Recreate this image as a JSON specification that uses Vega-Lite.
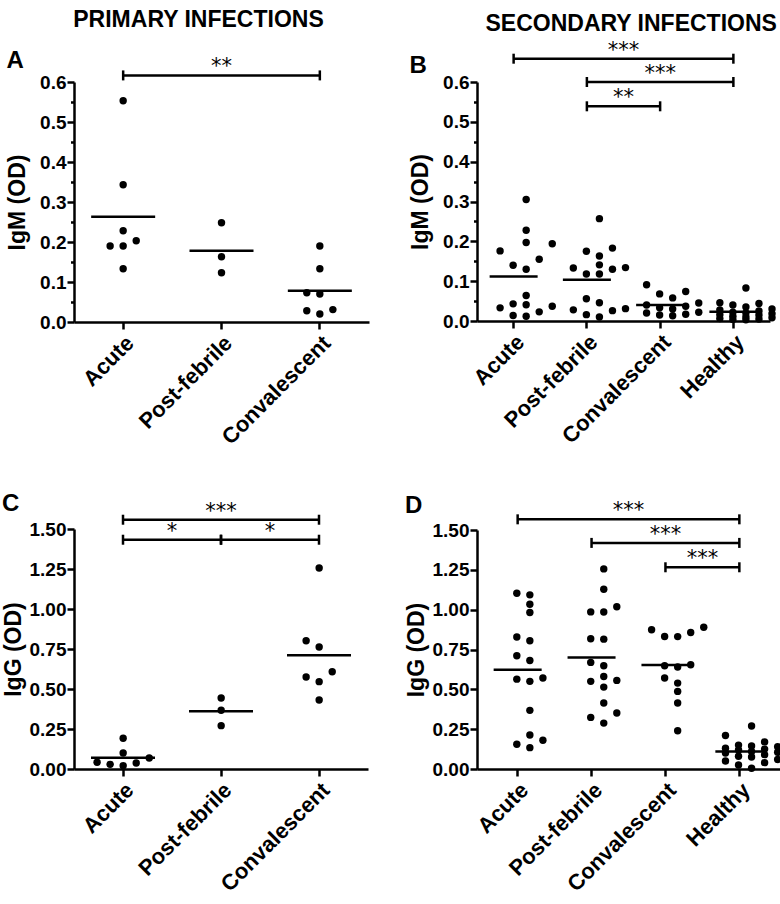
{
  "$schema": "https://vega.github.io/schema/vega-lite/v6.json",
  "background": "white",
  "padding": {"left": 2, "top": 9, "right": 0, "bottom": 0},
  "datasets": {
    "points": [
      {"p": "A", "g": "Acute", "v": 0.553}, {"p": "A", "g": "Acute", "v": 0.343}, {"p": "A", "g": "Acute", "v": 0.228}, {"p": "A", "g": "Acute", "v": 0.203}, {"p": "A", "g": "Acute", "v": 0.19}, {"p": "A", "g": "Acute", "v": 0.19}, {"p": "A", "g": "Acute", "v": 0.133},
      {"p": "A", "g": "Post-febrile", "v": 0.248}, {"p": "A", "g": "Post-febrile", "v": 0.163}, {"p": "A", "g": "Post-febrile", "v": 0.123},
      {"p": "A", "g": "Convalescent", "v": 0.19}, {"p": "A", "g": "Convalescent", "v": 0.133}, {"p": "A", "g": "Convalescent", "v": 0.073}, {"p": "A", "g": "Convalescent", "v": 0.07}, {"p": "A", "g": "Convalescent", "v": 0.031}, {"p": "A", "g": "Convalescent", "v": 0.02}, {"p": "A", "g": "Convalescent", "v": 0.028},
      {"p": "B", "g": "Acute", "v": 0.305}, {"p": "B", "g": "Acute", "v": 0.228}, {"p": "B", "g": "Acute", "v": 0.197}, {"p": "B", "g": "Acute", "v": 0.194}, {"p": "B", "g": "Acute", "v": 0.176}, {"p": "B", "g": "Acute", "v": 0.155}, {"p": "B", "g": "Acute", "v": 0.14}, {"p": "B", "g": "Acute", "v": 0.13}, {"p": "B", "g": "Acute", "v": 0.064}, {"p": "B", "g": "Acute", "v": 0.043}, {"p": "B", "g": "Acute", "v": 0.041}, {"p": "B", "g": "Acute", "v": 0.037}, {"p": "B", "g": "Acute", "v": 0.033}, {"p": "B", "g": "Acute", "v": 0.023}, {"p": "B", "g": "Acute", "v": 0.014}, {"p": "B", "g": "Acute", "v": 0.012},
      {"p": "B", "g": "Post-febrile", "v": 0.257}, {"p": "B", "g": "Post-febrile", "v": 0.183}, {"p": "B", "g": "Post-febrile", "v": 0.175}, {"p": "B", "g": "Post-febrile", "v": 0.163}, {"p": "B", "g": "Post-febrile", "v": 0.141}, {"p": "B", "g": "Post-febrile", "v": 0.134}, {"p": "B", "g": "Post-febrile", "v": 0.133}, {"p": "B", "g": "Post-febrile", "v": 0.13}, {"p": "B", "g": "Post-febrile", "v": 0.118}, {"p": "B", "g": "Post-febrile", "v": 0.118}, {"p": "B", "g": "Post-febrile", "v": 0.056}, {"p": "B", "g": "Post-febrile", "v": 0.046}, {"p": "B", "g": "Post-febrile", "v": 0.031}, {"p": "B", "g": "Post-febrile", "v": 0.028}, {"p": "B", "g": "Post-febrile", "v": 0.026}, {"p": "B", "g": "Post-febrile", "v": 0.016}, {"p": "B", "g": "Post-febrile", "v": 0.01},
      {"p": "B", "g": "Convalescent", "v": 0.091}, {"p": "B", "g": "Convalescent", "v": 0.074}, {"p": "B", "g": "Convalescent", "v": 0.068}, {"p": "B", "g": "Convalescent", "v": 0.058}, {"p": "B", "g": "Convalescent", "v": 0.045}, {"p": "B", "g": "Convalescent", "v": 0.04}, {"p": "B", "g": "Convalescent", "v": 0.037}, {"p": "B", "g": "Convalescent", "v": 0.033}, {"p": "B", "g": "Convalescent", "v": 0.03}, {"p": "B", "g": "Convalescent", "v": 0.022}, {"p": "B", "g": "Convalescent", "v": 0.02}, {"p": "B", "g": "Convalescent", "v": 0.017}, {"p": "B", "g": "Convalescent", "v": 0.015}, {"p": "B", "g": "Convalescent", "v": 0.013},
      {"p": "B", "g": "Healthy", "v": 0.083}, {"p": "B", "g": "Healthy", "v": 0.046}, {"p": "B", "g": "Healthy", "v": 0.044}, {"p": "B", "g": "Healthy", "v": 0.04}, {"p": "B", "g": "Healthy", "v": 0.035}, {"p": "B", "g": "Healthy", "v": 0.03}, {"p": "B", "g": "Healthy", "v": 0.028}, {"p": "B", "g": "Healthy", "v": 0.025}, {"p": "B", "g": "Healthy", "v": 0.022}, {"p": "B", "g": "Healthy", "v": 0.02}, {"p": "B", "g": "Healthy", "v": 0.018}, {"p": "B", "g": "Healthy", "v": 0.016}, {"p": "B", "g": "Healthy", "v": 0.015}, {"p": "B", "g": "Healthy", "v": 0.012}, {"p": "B", "g": "Healthy", "v": 0.01}, {"p": "B", "g": "Healthy", "v": 0.008}, {"p": "B", "g": "Healthy", "v": 0.006}, {"p": "B", "g": "Healthy", "v": 0.005}, {"p": "B", "g": "Healthy", "v": 0.004}, {"p": "B", "g": "Healthy", "v": 0.003},
      {"p": "C", "g": "Acute", "v": 0.192}, {"p": "C", "g": "Acute", "v": 0.1}, {"p": "C", "g": "Acute", "v": 0.069}, {"p": "C", "g": "Acute", "v": 0.042}, {"p": "C", "g": "Acute", "v": 0.0375}, {"p": "C", "g": "Acute", "v": 0.029}, {"p": "C", "g": "Acute", "v": 0.021},
      {"p": "C", "g": "Post-febrile", "v": 0.444}, {"p": "C", "g": "Post-febrile", "v": 0.367}, {"p": "C", "g": "Post-febrile", "v": 0.271},
      {"p": "C", "g": "Convalescent", "v": 1.256}, {"p": "C", "g": "Convalescent", "v": 0.802}, {"p": "C", "g": "Convalescent", "v": 0.7625}, {"p": "C", "g": "Convalescent", "v": 0.608}, {"p": "C", "g": "Convalescent", "v": 0.575}, {"p": "C", "g": "Convalescent", "v": 0.546}, {"p": "C", "g": "Convalescent", "v": 0.431},
      {"p": "D", "g": "Acute", "v": 1.103}, {"p": "D", "g": "Acute", "v": 1.093}, {"p": "D", "g": "Acute", "v": 1.034}, {"p": "D", "g": "Acute", "v": 0.982}, {"p": "D", "g": "Acute", "v": 0.828}, {"p": "D", "g": "Acute", "v": 0.805}, {"p": "D", "g": "Acute", "v": 0.711}, {"p": "D", "g": "Acute", "v": 0.681}, {"p": "D", "g": "Acute", "v": 0.571}, {"p": "D", "g": "Acute", "v": 0.564}, {"p": "D", "g": "Acute", "v": 0.55}, {"p": "D", "g": "Acute", "v": 0.368}, {"p": "D", "g": "Acute", "v": 0.213}, {"p": "D", "g": "Acute", "v": 0.18}, {"p": "D", "g": "Acute", "v": 0.155}, {"p": "D", "g": "Acute", "v": 0.134},
      {"p": "D", "g": "Post-febrile", "v": 1.256}, {"p": "D", "g": "Post-febrile", "v": 1.128}, {"p": "D", "g": "Post-febrile", "v": 1.018}, {"p": "D", "g": "Post-febrile", "v": 0.986}, {"p": "D", "g": "Post-febrile", "v": 0.985}, {"p": "D", "g": "Post-febrile", "v": 0.817}, {"p": "D", "g": "Post-febrile", "v": 0.815}, {"p": "D", "g": "Post-febrile", "v": 0.669}, {"p": "D", "g": "Post-febrile", "v": 0.648}, {"p": "D", "g": "Post-febrile", "v": 0.581}, {"p": "D", "g": "Post-febrile", "v": 0.556}, {"p": "D", "g": "Post-febrile", "v": 0.55}, {"p": "D", "g": "Post-febrile", "v": 0.514}, {"p": "D", "g": "Post-febrile", "v": 0.414}, {"p": "D", "g": "Post-febrile", "v": 0.351}, {"p": "D", "g": "Post-febrile", "v": 0.324}, {"p": "D", "g": "Post-febrile", "v": 0.288},
      {"p": "D", "g": "Convalescent", "v": 0.89}, {"p": "D", "g": "Convalescent", "v": 0.874}, {"p": "D", "g": "Convalescent", "v": 0.857}, {"p": "D", "g": "Convalescent", "v": 0.832}, {"p": "D", "g": "Convalescent", "v": 0.831}, {"p": "D", "g": "Convalescent", "v": 0.654}, {"p": "D", "g": "Convalescent", "v": 0.648}, {"p": "D", "g": "Convalescent", "v": 0.64}, {"p": "D", "g": "Convalescent", "v": 0.571}, {"p": "D", "g": "Convalescent", "v": 0.539}, {"p": "D", "g": "Convalescent", "v": 0.487}, {"p": "D", "g": "Convalescent", "v": 0.414}, {"p": "D", "g": "Convalescent", "v": 0.24},
      {"p": "D", "g": "Healthy", "v": 0.27}, {"p": "D", "g": "Healthy", "v": 0.21}, {"p": "D", "g": "Healthy", "v": 0.17}, {"p": "D", "g": "Healthy", "v": 0.15}, {"p": "D", "g": "Healthy", "v": 0.145}, {"p": "D", "g": "Healthy", "v": 0.14}, {"p": "D", "g": "Healthy", "v": 0.13}, {"p": "D", "g": "Healthy", "v": 0.125}, {"p": "D", "g": "Healthy", "v": 0.12}, {"p": "D", "g": "Healthy", "v": 0.11}, {"p": "D", "g": "Healthy", "v": 0.105}, {"p": "D", "g": "Healthy", "v": 0.1}, {"p": "D", "g": "Healthy", "v": 0.09}, {"p": "D", "g": "Healthy", "v": 0.08}, {"p": "D", "g": "Healthy", "v": 0.075}, {"p": "D", "g": "Healthy", "v": 0.06}, {"p": "D", "g": "Healthy", "v": 0.05}, {"p": "D", "g": "Healthy", "v": 0.04}, {"p": "D", "g": "Healthy", "v": 0.025}, {"p": "D", "g": "Healthy", "v": 0.005}
    ],
    "brackets": [
      {"p": "A", "from": "Acute", "to": "Convalescent", "lvl": 0.6165, "sig": "**"},
      {"p": "B", "from": "Acute", "to": "Healthy", "lvl": 0.6585, "sig": "***"},
      {"p": "B", "from": "Post-febrile", "to": "Healthy", "lvl": 0.6, "sig": "***"},
      {"p": "B", "from": "Post-febrile", "to": "Convalescent", "lvl": 0.539, "sig": "**"},
      {"p": "C", "from": "Acute", "to": "Convalescent", "lvl": 1.558, "sig": "***"},
      {"p": "C", "from": "Acute", "to": "Post-febrile", "lvl": 1.433, "sig": "*"},
      {"p": "C", "from": "Post-febrile", "to": "Convalescent", "lvl": 1.433, "sig": "*"},
      {"p": "D", "from": "Acute", "to": "Healthy", "lvl": 1.567, "sig": "***"},
      {"p": "D", "from": "Post-febrile", "to": "Healthy", "lvl": 1.419, "sig": "***"},
      {"p": "D", "from": "Convalescent", "to": "Healthy", "lvl": 1.266, "sig": "***"}
    ]
  },
  "spacing": 36,
  "hconcat": [
    {
      "title": {"text": "PRIMARY INFECTIONS", "fontSize": 23, "anchor": "middle", "dx": 13, "offset": 17},
      "spacing": 42,
      "vconcat": [
        {
          "width": 295, "height": 240,
          "title": {"text": "A", "anchor": "start", "frame": "bounds", "offset": -17},
          "resolve": {"scale": {"x": "independent"}, "axis": {"y": "independent"}},
          "layer": [
            {
              "data": {"name": "points"},
              "transform": [
                {"filter": "datum.p == 'A'"},
                {"window": [{"op": "lag", "field": "v", "as": "prev"}], "groupby": ["g"], "sort": [{"field": "v"}]},
                {"calculate": "datum.prev == null || datum.v - datum.prev > 0.021 ? 1 : 0", "as": "newc"},
                {"window": [{"op": "sum", "field": "newc", "as": "cl"}], "groupby": ["g"], "sort": [{"field": "v"}], "frame": [null, 0]},
                {"window": [{"op": "row_number", "as": "r"}, {"op": "count", "as": "n"}], "groupby": ["g", "cl"], "sort": [{"field": "v"}], "frame": [null, null]},
                {"calculate": "(datum.r - 1) % (datum.n > 4 ? 5 : 3)", "as": "k"},
                {"calculate": "datum.k == 0 ? 0 : (datum.k % 2 == 1 ? -(datum.k + 1) / 2 : datum.k / 2)", "as": "off"}
              ],
              "mark": {"type": "circle", "size": 55, "color": "black", "opacity": 1},
              "encoding": {
                "x": {"field": "g", "type": "nominal", "scale": {"type": "band", "domain": ["Acute", "Post-febrile", "Convalescent"], "paddingInner": 0, "paddingOuter": 0}, "axis": {"title": null}},
                "xOffset": {"field": "off", "type": "quantitative", "scale": {"domain": [-3.77, 3.77]}},
                "y": {"field": "v", "type": "quantitative", "scale": {"domain": [0, 0.6], "nice": false, "zero": false},
                  "axis": {"title": "IgM (OD)", "titlePadding": 10, "values": [0, 0.05, 0.1, 0.15, 0.2, 0.25, 0.3, 0.35, 0.4, 0.45, 0.5, 0.55, 0.6],
                    "labelExpr": "round(datum.value * 100) % 10 == 0 ? format(datum.value, '.1f') : ''",
                    "tickSize": {"condition": {"test": "round(datum.value * 100) % 10 != 0", "value": 3.5}, "value": 7}}}
              }
            },
            {
              "data": {"name": "points"},
              "transform": [{"filter": "datum.p == 'A'"}, {"aggregate": [{"op": "mean", "field": "v", "as": "m"}], "groupby": ["g"]}],
              "mark": {"type": "tick", "orient": "horizontal", "color": "black", "thickness": 2.5, "size": 64, "opacity": 1},
              "encoding": {
                "x": {"field": "g", "type": "nominal", "scale": {"type": "band", "domain": ["Acute", "Post-febrile", "Convalescent"], "paddingInner": 0, "paddingOuter": 0}, "axis": null},
                "y": {"field": "m", "type": "quantitative", "axis": null}
              }
            },
            {
              "data": {"name": "brackets"},
              "transform": [{"filter": "datum.p == 'A'"},
                {"calculate": "indexof(['Acute','Post-febrile','Convalescent','Healthy'], datum.from)", "as": "i0"},
                {"calculate": "indexof(['Acute','Post-febrile','Convalescent','Healthy'], datum.to)", "as": "i1"}],
              "mark": {"type": "rule", "color": "black", "strokeWidth": 2.5},
              "encoding": {
                "x": {"field": "i0", "type": "quantitative", "scale": {"domain": [-0.5, 2.5], "nice": false, "zero": false}, "axis": null},
                "x2": {"field": "i1"},
                "y": {"field": "lvl", "type": "quantitative", "axis": null}
              }
            },
            {
              "data": {"name": "brackets"},
              "transform": [{"filter": "datum.p == 'A'"},
                {"calculate": "indexof(['Acute','Post-febrile','Convalescent','Healthy'], datum.from)", "as": "i0"},
                {"calculate": "indexof(['Acute','Post-febrile','Convalescent','Healthy'], datum.to)", "as": "i1"},
                {"fold": ["i0", "i1"], "as": ["end", "ix"]}],
              "mark": {"type": "tick", "orient": "vertical", "color": "black", "thickness": 2.5, "size": 10, "opacity": 1},
              "encoding": {
                "x": {"field": "ix", "type": "quantitative", "scale": {"domain": [-0.5, 2.5], "nice": false, "zero": false}, "axis": null},
                "y": {"field": "lvl", "type": "quantitative", "axis": null}
              }
            },
            {
              "data": {"name": "brackets"},
              "transform": [{"filter": "datum.p == 'A'"},
                {"calculate": "(indexof(['Acute','Post-febrile','Convalescent','Healthy'], datum.from) + indexof(['Acute','Post-febrile','Convalescent','Healthy'], datum.to)) / 2", "as": "mid"}],
              "mark": {"type": "text", "font": "DejaVu Sans", "fontSize": 21, "baseline": "alphabetic", "dy": -2, "color": "#000", "fill": "#000"},
              "encoding": {
                "x": {"field": "mid", "type": "quantitative", "scale": {"domain": [-0.5, 2.5], "nice": false, "zero": false}, "axis": null},
                "y": {"field": "lvl", "type": "quantitative", "axis": null},
                "text": {"field": "sig"}
              }
            }
          ]
        },
        {
          "width": 294, "height": 240,
          "title": {"text": "C", "anchor": "start", "frame": "bounds", "offset": -15},
          "resolve": {"scale": {"x": "independent"}, "axis": {"y": "independent"}},
          "layer": [
            {
              "data": {"name": "points"},
              "transform": [
                {"filter": "datum.p == 'C'"},
                {"window": [{"op": "lag", "field": "v", "as": "prev"}], "groupby": ["g"], "sort": [{"field": "v"}]},
                {"calculate": "datum.prev == null || datum.v - datum.prev > 0.05 ? 1 : 0", "as": "newc"},
                {"window": [{"op": "sum", "field": "newc", "as": "cl"}], "groupby": ["g"], "sort": [{"field": "v"}], "frame": [null, 0]},
                {"window": [{"op": "row_number", "as": "r"}, {"op": "count", "as": "n"}], "groupby": ["g", "cl"], "sort": [{"field": "v"}], "frame": [null, null]},
                {"calculate": "(datum.r - 1) % (datum.n > 4 ? 5 : 3)", "as": "k"},
                {"calculate": "datum.k == 0 ? 0 : (datum.k % 2 == 1 ? -(datum.k + 1) / 2 : datum.k / 2)", "as": "off"}
              ],
              "mark": {"type": "circle", "size": 55, "color": "black", "opacity": 1},
              "encoding": {
                "x": {"field": "g", "type": "nominal", "scale": {"type": "band", "domain": ["Acute", "Post-febrile", "Convalescent"], "paddingInner": 0, "paddingOuter": 0}, "axis": {"title": null}},
                "xOffset": {"field": "off", "type": "quantitative", "scale": {"domain": [-3.77, 3.77]}},
                "y": {"field": "v", "type": "quantitative", "scale": {"domain": [0, 1.5], "nice": false, "zero": false},
                  "axis": {"title": "IgG (OD)", "titlePadding": 4, "values": [0, 0.25, 0.5, 0.75, 1, 1.25, 1.5], "format": ".2f"}}
              }
            },
            {
              "data": {"name": "points"},
              "transform": [{"filter": "datum.p == 'C'"}, {"aggregate": [{"op": "mean", "field": "v", "as": "m"}], "groupby": ["g"]}],
              "mark": {"type": "tick", "orient": "horizontal", "color": "black", "thickness": 2.5, "size": 64, "opacity": 1},
              "encoding": {
                "x": {"field": "g", "type": "nominal", "scale": {"type": "band", "domain": ["Acute", "Post-febrile", "Convalescent"], "paddingInner": 0, "paddingOuter": 0}, "axis": null},
                "y": {"field": "m", "type": "quantitative", "axis": null}
              }
            },
            {
              "data": {"name": "brackets"},
              "transform": [{"filter": "datum.p == 'C'"},
                {"calculate": "indexof(['Acute','Post-febrile','Convalescent','Healthy'], datum.from)", "as": "i0"},
                {"calculate": "indexof(['Acute','Post-febrile','Convalescent','Healthy'], datum.to)", "as": "i1"}],
              "mark": {"type": "rule", "color": "black", "strokeWidth": 2.5},
              "encoding": {
                "x": {"field": "i0", "type": "quantitative", "scale": {"domain": [-0.5, 2.5], "nice": false, "zero": false}, "axis": null},
                "x2": {"field": "i1"},
                "y": {"field": "lvl", "type": "quantitative", "axis": null}
              }
            },
            {
              "data": {"name": "brackets"},
              "transform": [{"filter": "datum.p == 'C'"},
                {"calculate": "indexof(['Acute','Post-febrile','Convalescent','Healthy'], datum.from)", "as": "i0"},
                {"calculate": "indexof(['Acute','Post-febrile','Convalescent','Healthy'], datum.to)", "as": "i1"},
                {"fold": ["i0", "i1"], "as": ["end", "ix"]}],
              "mark": {"type": "tick", "orient": "vertical", "color": "black", "thickness": 2.5, "size": 10, "opacity": 1},
              "encoding": {
                "x": {"field": "ix", "type": "quantitative", "scale": {"domain": [-0.5, 2.5], "nice": false, "zero": false}, "axis": null},
                "y": {"field": "lvl", "type": "quantitative", "axis": null}
              }
            },
            {
              "data": {"name": "brackets"},
              "transform": [{"filter": "datum.p == 'C'"},
                {"calculate": "(indexof(['Acute','Post-febrile','Convalescent','Healthy'], datum.from) + indexof(['Acute','Post-febrile','Convalescent','Healthy'], datum.to)) / 2", "as": "mid"}],
              "mark": {"type": "text", "font": "DejaVu Sans", "fontSize": 21, "baseline": "alphabetic", "dy": -2, "color": "#000", "fill": "#000"},
              "encoding": {
                "x": {"field": "mid", "type": "quantitative", "scale": {"domain": [-0.5, 2.5], "nice": false, "zero": false}, "axis": null},
                "y": {"field": "lvl", "type": "quantitative", "axis": null},
                "text": {"field": "sig"}
              }
            }
          ]
        }
      ]
    },
    {
      "title": {"text": "SECONDARY INFECTIONS", "fontSize": 23, "anchor": "middle", "dx": 38, "offset": 4},
      "spacing": 46,
      "vconcat": [
        {
          "width": 293, "height": 239,
          "title": {"text": "B", "anchor": "start", "frame": "bounds", "offset": -38},
          "resolve": {"scale": {"x": "independent"}, "axis": {"y": "independent"}},
          "layer": [
            {
              "data": {"name": "points"},
              "transform": [
                {"filter": "datum.p == 'B'"},
                {"window": [{"op": "lag", "field": "v", "as": "prev"}], "groupby": ["g"], "sort": [{"field": "v"}]},
                {"calculate": "datum.prev == null || datum.v - datum.prev > 0.021 ? 1 : 0", "as": "newc"},
                {"window": [{"op": "sum", "field": "newc", "as": "cl"}], "groupby": ["g"], "sort": [{"field": "v"}], "frame": [null, 0]},
                {"window": [{"op": "row_number", "as": "r"}, {"op": "count", "as": "n"}], "groupby": ["g", "cl"], "sort": [{"field": "v"}], "frame": [null, null]},
                {"calculate": "(datum.r - 1) % (datum.n > 4 ? 5 : 3)", "as": "k"},
                {"calculate": "datum.k == 0 ? 0 : (datum.k % 2 == 1 ? -(datum.k + 1) / 2 : datum.k / 2)", "as": "off"}
              ],
              "mark": {"type": "circle", "size": 55, "color": "black", "opacity": 1},
              "encoding": {
                "x": {"field": "g", "type": "nominal", "scale": {"type": "band", "domain": ["Acute", "Post-febrile", "Convalescent", "Healthy"], "paddingInner": 0, "paddingOuter": 0}, "axis": {"title": null}},
                "xOffset": {"field": "off", "type": "quantitative", "scale": {"domain": [-2.88, 2.88]}},
                "y": {"field": "v", "type": "quantitative", "scale": {"domain": [0, 0.6], "nice": false, "zero": false},
                  "axis": {"title": "IgM (OD)", "titlePadding": 10, "values": [0, 0.05, 0.1, 0.15, 0.2, 0.25, 0.3, 0.35, 0.4, 0.45, 0.5, 0.55, 0.6],
                    "labelExpr": "round(datum.value * 100) % 10 == 0 ? format(datum.value, '.1f') : ''",
                    "tickSize": {"condition": {"test": "round(datum.value * 100) % 10 != 0", "value": 3.5}, "value": 7}}}
              }
            },
            {
              "data": {"name": "points"},
              "transform": [{"filter": "datum.p == 'B'"}, {"aggregate": [{"op": "mean", "field": "v", "as": "m"}], "groupby": ["g"]}],
              "mark": {"type": "tick", "orient": "horizontal", "color": "black", "thickness": 2.5, "size": 48, "opacity": 1},
              "encoding": {
                "x": {"field": "g", "type": "nominal", "scale": {"type": "band", "domain": ["Acute", "Post-febrile", "Convalescent", "Healthy"], "paddingInner": 0, "paddingOuter": 0}, "axis": null},
                "y": {"field": "m", "type": "quantitative", "axis": null}
              }
            },
            {
              "data": {"name": "brackets"},
              "transform": [{"filter": "datum.p == 'B'"},
                {"calculate": "indexof(['Acute','Post-febrile','Convalescent','Healthy'], datum.from)", "as": "i0"},
                {"calculate": "indexof(['Acute','Post-febrile','Convalescent','Healthy'], datum.to)", "as": "i1"}],
              "mark": {"type": "rule", "color": "black", "strokeWidth": 2.5},
              "encoding": {
                "x": {"field": "i0", "type": "quantitative", "scale": {"domain": [-0.5, 3.5], "nice": false, "zero": false}, "axis": null},
                "x2": {"field": "i1"},
                "y": {"field": "lvl", "type": "quantitative", "axis": null}
              }
            },
            {
              "data": {"name": "brackets"},
              "transform": [{"filter": "datum.p == 'B'"},
                {"calculate": "indexof(['Acute','Post-febrile','Convalescent','Healthy'], datum.from)", "as": "i0"},
                {"calculate": "indexof(['Acute','Post-febrile','Convalescent','Healthy'], datum.to)", "as": "i1"},
                {"fold": ["i0", "i1"], "as": ["end", "ix"]}],
              "mark": {"type": "tick", "orient": "vertical", "color": "black", "thickness": 2.5, "size": 10, "opacity": 1},
              "encoding": {
                "x": {"field": "ix", "type": "quantitative", "scale": {"domain": [-0.5, 3.5], "nice": false, "zero": false}, "axis": null},
                "y": {"field": "lvl", "type": "quantitative", "axis": null}
              }
            },
            {
              "data": {"name": "brackets"},
              "transform": [{"filter": "datum.p == 'B'"},
                {"calculate": "(indexof(['Acute','Post-febrile','Convalescent','Healthy'], datum.from) + indexof(['Acute','Post-febrile','Convalescent','Healthy'], datum.to)) / 2", "as": "mid"}],
              "mark": {"type": "text", "font": "DejaVu Sans", "fontSize": 21, "baseline": "alphabetic", "dy": -2, "color": "#000", "fill": "#000"},
              "encoding": {
                "x": {"field": "mid", "type": "quantitative", "scale": {"domain": [-0.5, 3.5], "nice": false, "zero": false}, "axis": null},
                "y": {"field": "lvl", "type": "quantitative", "axis": null},
                "text": {"field": "sig"}
              }
            }
          ]
        },
        {
          "width": 303, "height": 239,
          "title": {"text": "D", "anchor": "start", "frame": "bounds", "offset": -18},
          "resolve": {"scale": {"x": "independent"}, "axis": {"y": "independent"}},
          "layer": [
            {
              "data": {"name": "points"},
              "transform": [
                {"filter": "datum.p == 'D'"},
                {"window": [{"op": "lag", "field": "v", "as": "prev"}], "groupby": ["g"], "sort": [{"field": "v"}]},
                {"calculate": "datum.prev == null || datum.v - datum.prev > 0.05 ? 1 : 0", "as": "newc"},
                {"window": [{"op": "sum", "field": "newc", "as": "cl"}], "groupby": ["g"], "sort": [{"field": "v"}], "frame": [null, 0]},
                {"window": [{"op": "row_number", "as": "r"}, {"op": "count", "as": "n"}], "groupby": ["g", "cl"], "sort": [{"field": "v"}], "frame": [null, null]},
                {"calculate": "(datum.r - 1) % (datum.n > 4 ? 5 : 3)", "as": "k"},
                {"calculate": "datum.k == 0 ? 0 : (datum.k % 2 == 1 ? -(datum.k + 1) / 2 : datum.k / 2)", "as": "off"}
              ],
              "mark": {"type": "circle", "size": 55, "color": "black", "opacity": 1},
              "encoding": {
                "x": {"field": "g", "type": "nominal", "scale": {"type": "band", "domain": ["Acute", "Post-febrile", "Convalescent", "Healthy"], "paddingInner": 0, "paddingOuter": 0.05}, "axis": {"title": null}},
                "xOffset": {"field": "off", "type": "quantitative", "scale": {"domain": [-2.9, 2.9]}},
                "y": {"field": "v", "type": "quantitative", "scale": {"domain": [0, 1.5], "nice": false, "zero": false},
                  "axis": {"title": "IgG (OD)", "titlePadding": 4, "values": [0, 0.25, 0.5, 0.75, 1, 1.25, 1.5], "format": ".2f"}}
              }
            },
            {
              "data": {"name": "points"},
              "transform": [{"filter": "datum.p == 'D'"}, {"aggregate": [{"op": "mean", "field": "v", "as": "m"}], "groupby": ["g"]}],
              "mark": {"type": "tick", "orient": "horizontal", "color": "black", "thickness": 2.5, "size": 48, "opacity": 1},
              "encoding": {
                "x": {"field": "g", "type": "nominal", "scale": {"type": "band", "domain": ["Acute", "Post-febrile", "Convalescent", "Healthy"], "paddingInner": 0, "paddingOuter": 0.05}, "axis": null},
                "y": {"field": "m", "type": "quantitative", "axis": null}
              }
            },
            {
              "data": {"name": "brackets"},
              "transform": [{"filter": "datum.p == 'D'"},
                {"calculate": "indexof(['Acute','Post-febrile','Convalescent','Healthy'], datum.from)", "as": "i0"},
                {"calculate": "indexof(['Acute','Post-febrile','Convalescent','Healthy'], datum.to)", "as": "i1"}],
              "mark": {"type": "rule", "color": "black", "strokeWidth": 2.5},
              "encoding": {
                "x": {"field": "i0", "type": "quantitative", "scale": {"domain": [-0.55, 3.55], "nice": false, "zero": false}, "axis": null},
                "x2": {"field": "i1"},
                "y": {"field": "lvl", "type": "quantitative", "axis": null}
              }
            },
            {
              "data": {"name": "brackets"},
              "transform": [{"filter": "datum.p == 'D'"},
                {"calculate": "indexof(['Acute','Post-febrile','Convalescent','Healthy'], datum.from)", "as": "i0"},
                {"calculate": "indexof(['Acute','Post-febrile','Convalescent','Healthy'], datum.to)", "as": "i1"},
                {"fold": ["i0", "i1"], "as": ["end", "ix"]}],
              "mark": {"type": "tick", "orient": "vertical", "color": "black", "thickness": 2.5, "size": 10, "opacity": 1},
              "encoding": {
                "x": {"field": "ix", "type": "quantitative", "scale": {"domain": [-0.55, 3.55], "nice": false, "zero": false}, "axis": null},
                "y": {"field": "lvl", "type": "quantitative", "axis": null}
              }
            },
            {
              "data": {"name": "brackets"},
              "transform": [{"filter": "datum.p == 'D'"},
                {"calculate": "(indexof(['Acute','Post-febrile','Convalescent','Healthy'], datum.from) + indexof(['Acute','Post-febrile','Convalescent','Healthy'], datum.to)) / 2", "as": "mid"}],
              "mark": {"type": "text", "font": "DejaVu Sans", "fontSize": 21, "baseline": "alphabetic", "dy": -2, "color": "#000", "fill": "#000"},
              "encoding": {
                "x": {"field": "mid", "type": "quantitative", "scale": {"domain": [-0.55, 3.55], "nice": false, "zero": false}, "axis": null},
                "y": {"field": "lvl", "type": "quantitative", "axis": null},
                "text": {"field": "sig"}
              }
            }
          ]
        }
      ]
    }
  ],
  "config": {
    "font": "Liberation Sans",
    "view": {"stroke": null},
    "title": {"color": "black", "font": "Liberation Sans", "fontWeight": "bold", "fontSize": 24},
    "axis": {
      "domainColor": "black", "domainWidth": 2.5, "tickColor": "black", "tickWidth": 2.5, "tickSize": 7,
      "labelColor": "black", "labelFont": "Liberation Sans", "labelFontWeight": "bold", "labelFontSize": 19, "labelPadding": 1,
      "titleColor": "black", "titleFont": "Liberation Sans", "titleFontWeight": "bold", "titleFontSize": 23,
      "grid": false, "labelOverlap": false, "labelFlush": false
    },
    "axisX": {"labelAngle": -45, "labelAlign": "right", "labelBaseline": "top", "labelFontSize": 22, "labelPadding": 3}
  }
}
